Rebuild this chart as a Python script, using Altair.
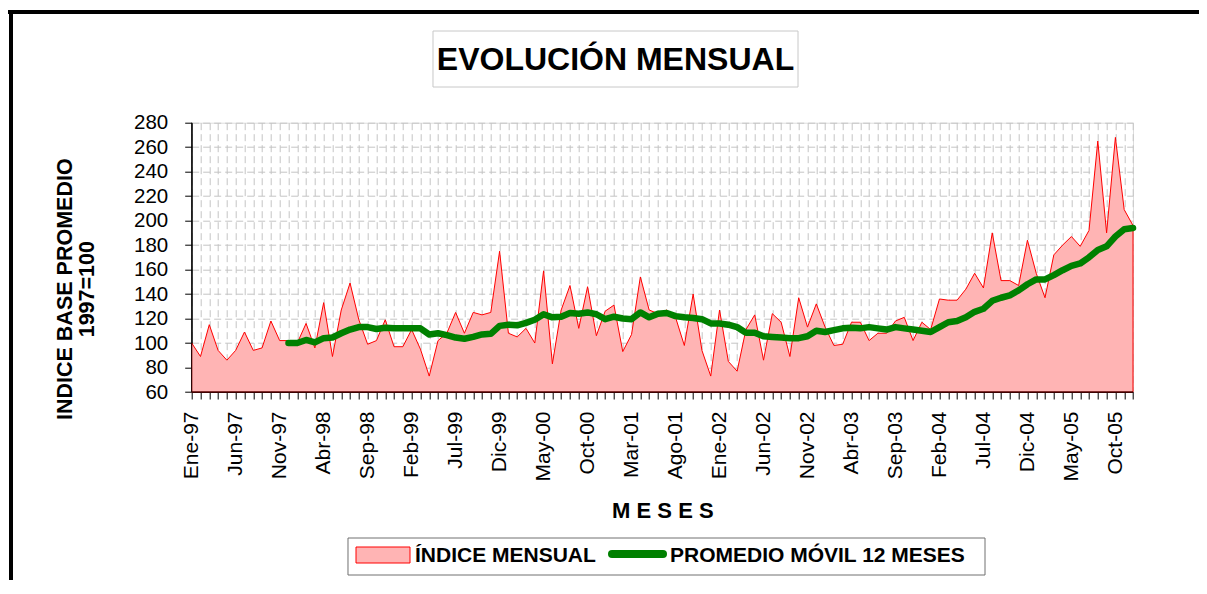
import json
import altair as alt
import pandas as pd

# ---------------- data ----------------
meses_abr = ["Ene", "Feb", "Mar", "Abr", "May", "Jun", "Jul", "Ago", "Sep", "Oct", "Nov", "Dic"]
anios = ["97", "98", "99", "00", "01", "02", "03", "04", "05"]
meses = [f"{m}-{a}" for a in anios for m in meses_abr]

indice = [
    100, 89, 115, 94, 86, 94, 109, 94, 96, 118, 102, 102,
    100, 116, 96, 133, 89, 127, 149, 119, 99, 102, 119, 97,
    97, 111, 95, 73, 102, 108, 125, 108, 125, 123, 125, 175,
    108, 105, 112, 100, 159, 83, 127, 147, 112, 146, 106, 126,
    131, 93, 107, 154, 127, 124, 127, 121, 98, 140, 94, 73,
    127, 85, 77, 111, 123, 86, 124, 117, 89, 137, 113, 132,
    113, 98, 99, 117, 117, 102, 108, 108, 118, 121, 102, 117,
    111, 136, 135, 135, 144, 157, 145, 190, 151, 151, 147, 184,
    157, 137, 172, 180, 187, 179, 192, 265, 190, 268, 209, 196,
]

promedio = [None] * 11 + [
    100,
    100, 102.5, 100.5, 104, 104.5, 108, 111, 113, 113, 111.5, 112.5, 112,
    112, 112, 112, 107, 108, 106.5, 104.5, 103.5, 105, 107, 107.5, 114,
    115, 114.5, 116.5, 119, 123.5, 121, 121.5, 124.5, 124, 125, 123.5, 119.5,
    121.5, 120, 119.5, 125, 121, 124, 124.5, 122, 121, 120.5, 119.5, 116,
    116, 115, 113, 108.5, 108.5, 105.5, 105, 104.5, 104, 104, 105.5, 110,
    109, 110.5, 112, 112.5, 112, 113, 112, 111, 113, 112, 111, 110,
    109, 113, 117, 118, 121, 125.5, 128, 134.5, 137, 139, 143, 148,
    152, 152, 155.5, 159.5, 163, 165, 170, 176, 179, 187, 193, 194,
]

y_ticks = list(range(60, 281, 20))

df = pd.DataFrame({"i": list(range(len(meses))), "mes": meses,
                   "indice": indice, "promedio": promedio})
one = pd.DataFrame({"k": [0]})

FONT = "Liberation Sans"
W = 941.3
H = 269.3

x_values = list(range(len(meses)))
label_expr = "datum.value % 5 == 0 ? " + json.dumps(meses) + "[datum.value] : ''"

x_axis = alt.Axis(
    values=x_values, tickCount=len(x_values) + 5, labelExpr=label_expr,
    labelAngle=270, labelAlign="right", labelBaseline="middle",
    labelPadding=12, labelFontSize=21, labelFont=FONT, labelColor="black",
    labelOverlap=False, labelFlush=False, labelBound=False,
    tickSize=7, tickColor="black", domainColor="black",
    grid=True, gridDash=[7, 4], gridColor="#c4c4c4", gridWidth=1,
    title="M E S E S", titleFont=FONT, titleFontSize=22, titleFontWeight="bold",
    titleColor="black", titleY=118, titleBaseline="middle",
)
y_axis = alt.Axis(
    values=y_ticks, tickCount=len(y_ticks) + 5, labelFontSize=20.5, labelFont=FONT,
    labelColor="black", labelOverlap=False, labelFlush=False, labelBound=False,
    labelPadding=17, tickSize=7, tickColor="black", domainColor="black",
    grid=True, gridDash=[7, 4], gridColor="#c4c4c4", gridWidth=1,
    title=["INDICE BASE PROMEDIO", "1997=100"], titleFont=FONT, titleFontSize=21.5,
    titleFontWeight="bold", titleColor="black", titleAngle=270,
    titleAlign="center", titleBaseline="middle", titleLineHeight=22,
    titleX=-126, titleY=166,
)

deco = alt.Chart(one)

frame_top = deco.mark_rule(color="black", strokeWidth=4).encode(
    x=alt.value(-183.7), x2=alt.value(1010), y=alt.value(-110.7))
frame_left = deco.mark_rule(color="black", strokeWidth=4).encode(
    x=alt.value(-180.7), y=alt.value(-112.7), y2=alt.value(470))

title_box = deco.mark_rect(fill="white", stroke="#c8c8c8", strokeWidth=1).encode(
    x=alt.value(241.3), x2=alt.value(606.3), y=alt.value(-91.7), y2=alt.value(-35.7))
title_text = deco.mark_text(font=FONT, fontSize=32, fontWeight="bold", color="black",
                            align="center", baseline="middle").encode(
    x=alt.value(423.8), y=alt.value(-62.7), text=alt.value("EVOLUCIÓN MENSUAL"))

area = alt.Chart(df).mark_area(fill="#ffb4b4", stroke="#ff0000", strokeWidth=1, opacity=1).encode(
    x=alt.X("i:Q", scale=alt.Scale(domain=[0, len(meses) - 1], nice=False, zero=False), axis=x_axis),
    y=alt.Y("indice:Q", scale=alt.Scale(domain=[60, 280], nice=False, zero=False), axis=y_axis),
    y2=alt.datum(60),
)

line = alt.Chart(df).transform_filter("datum.promedio != null").mark_line(
    color="#008000", strokeWidth=6.5, strokeCap="round", strokeJoin="round").encode(
    x="i:Q", y="promedio:Q")

axis_bottom = deco.mark_rule(color="black", strokeWidth=1).encode(
    x=alt.value(0), x2=alt.value(W), y=alt.value(H))
axis_left = deco.mark_rule(color="black", strokeWidth=1).encode(
    x=alt.value(0), y=alt.value(0), y2=alt.value(H))

leg_box = deco.mark_rect(fill="white", stroke="#707070", strokeWidth=1).encode(
    x=alt.value(156.3), x2=alt.value(793.3), y=alt.value(415.3), y2=alt.value(452.3))
leg_sw1 = deco.mark_rect(fill="#ffb4b4", stroke="#ff0000", strokeWidth=1).encode(
    x=alt.value(164.3), x2=alt.value(218.3), y=alt.value(424.3), y2=alt.value(440.3))
leg_t1 = deco.mark_text(font=FONT, fontSize=21, fontWeight="bold", color="black",
                        align="left", baseline="middle").encode(
    x=alt.value(223.3), y=alt.value(432.8), text=alt.value("ÍNDICE MENSUAL"))
leg_sw2 = deco.mark_rule(color="#008000", strokeWidth=8, strokeCap="round").encode(
    x=alt.value(420.3), x2=alt.value(471.3), y=alt.value(431.3))
leg_t2 = deco.mark_text(font=FONT, fontSize=21, fontWeight="bold", color="black",
                        align="left", baseline="middle").encode(
    x=alt.value(478.3), y=alt.value(432.8), text=alt.value("PROMEDIO MÓVIL 12 MESES"))

chart = alt.layer(
    frame_top, frame_left, title_box, title_text, area, line,
    axis_bottom, axis_left, leg_box, leg_sw1, leg_t1, leg_sw2, leg_t2,
).properties(
    width=W, height=H,
    padding={"left": 183.7, "top": 114.7, "right": 66, "bottom": 188},
    autosize="none",
).configure_view(stroke="#a8a8a8", strokeWidth=1).configure(background="white")

chart.save("out.html", embed_options={"renderer": "svg", "actions": False})
